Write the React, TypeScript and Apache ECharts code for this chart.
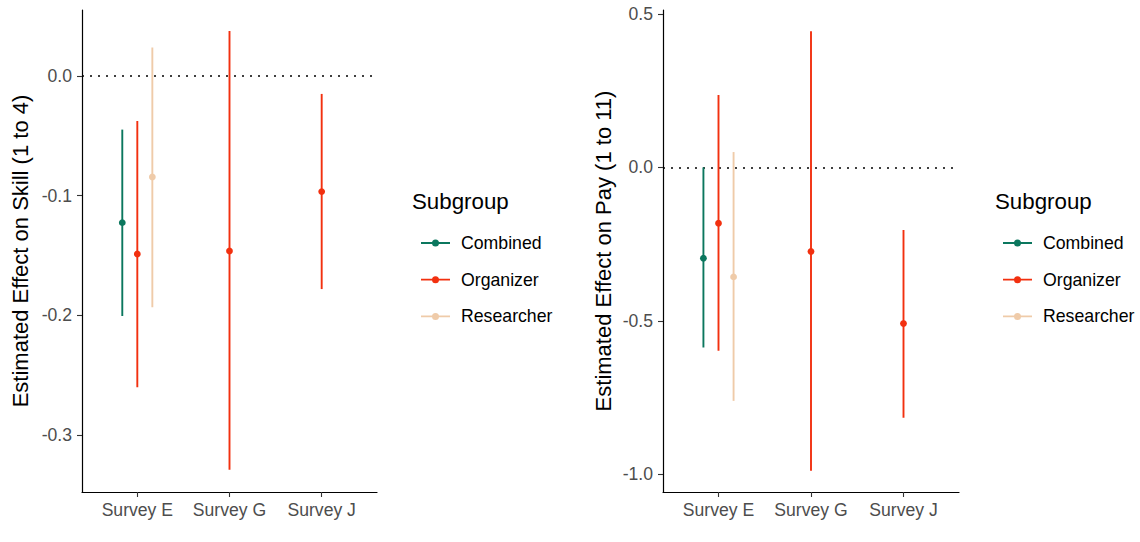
import React, { useEffect, useRef } from "react";
import * as echarts from "echarts";

// Categories and subgroups
const categories = ["Survey E", "Survey G", "Survey J"];
const subgroups = ["Combined", "Organizer", "Researcher"];
const subgroupColors = ["#0B775E", "#F2300F", "#EFCBA9"];

// Estimated effect on skill (1 to 4): estimate, lower and upper bound per survey
const skillCombinedEst = [-0.1225, null, null];
const skillCombinedLow = [-0.2005, null, null];
const skillCombinedHigh = [-0.0448, null, null];
const skillOrganizerEst = [-0.1487, -0.1462, -0.0966];
const skillOrganizerLow = [-0.26, -0.329, -0.178];
const skillOrganizerHigh = [-0.0376, 0.0376, -0.015];
const skillResearcherEst = [-0.0844, null, null];
const skillResearcherLow = [-0.1932, null, null];
const skillResearcherHigh = [0.0237, null, null];

// Estimated effect on pay (1 to 11)
const payCombinedEst = [-0.296, null, null];
const payCombinedLow = [-0.587, null, null];
const payCombinedHigh = [0.0, null, null];
const payOrganizerEst = [-0.182, -0.274, -0.509];
const payOrganizerLow = [-0.598, -0.989, -0.816];
const payOrganizerHigh = [0.236, 0.444, -0.204];
const payResearcherEst = [-0.357, null, null];
const payResearcherLow = [-0.761, null, null];
const payResearcherHigh = [0.05, null, null];

// Tick values
const skillTicks = [-0.3, -0.2, -0.1, 0.0];
const payTicks = [-1.0, -0.5, 0.0, 0.5];

const FONT = "'Liberation Sans', Arial, sans-serif";
const DODGE_STEP = 0.163;

const legendIcon =
  "path://M0,2.8 L29,2.8 L29,4.6 L0,4.6 Z M11,3.7 a3.5,3.5 0 1,1 7,0 a3.5,3.5 0 1,1 -7,0 Z";

type Panel = {
  title: string;
  min: number;
  max: number;
  ticks: number[];
  nameGap: number;
  est: (number | null)[][];
  low: (number | null)[][];
  high: (number | null)[][];
};

const panels: Panel[] = [
  {
    title: "Estimated Effect on Skill (1 to 4)",
    min: -0.3475,
    max: 0.0551,
    ticks: skillTicks,
    nameGap: 51,
    est: [skillCombinedEst, skillOrganizerEst, skillResearcherEst],
    low: [skillCombinedLow, skillOrganizerLow, skillResearcherLow],
    high: [skillCombinedHigh, skillOrganizerHigh, skillResearcherHigh],
  },
  {
    title: "Estimated Effect on Pay (1 to 11)",
    min: -1.058,
    max: 0.513,
    ticks: payTicks,
    nameGap: 49,
    est: [payCombinedEst, payOrganizerEst, payResearcherEst],
    low: [payCombinedLow, payOrganizerLow, payResearcherLow],
    high: [payCombinedHigh, payOrganizerHigh, payResearcherHigh],
  },
];

const gridBoxes = [
  { left: 82, top: 10, width: 295, height: 482 },
  { left: 663, top: 10, width: 296, height: 482 },
];
const legendLefts = [416, 998];
const legendTitleLefts = [412, 995];

function buildOption() {
  const series: any[] = [];
  const xAxis: any[] = [];
  const yAxis: any[] = [];
  const legend: any[] = [];
  const graphic: any[] = [];

  panels.forEach((panel, p) => {
    // dodge slot of each subgroup within each category
    const slots: number[][] = subgroups.map(() => categories.map(() => 0));
    categories.forEach((_, c) => {
      const present = subgroups
        .map((_, g) => g)
        .filter((g) => panel.est[g][c] !== null);
      present.forEach((g, i) => {
        slots[g][c] = i - (present.length - 1) / 2;
      });
    });

    xAxis.push({
      type: "value",
      gridIndex: p,
      min: 0.4,
      max: 3.6,
      splitLine: { show: false },
      axisLine: { show: true, onZero: false, lineStyle: { color: "#000", width: 1.2 } },
      axisTick: {
        show: true,
        customValues: [1, 2, 3],
        length: 5,
        lineStyle: { color: "#333", width: 1.1 },
      },
      axisLabel: {
        customValues: [1, 2, 3],
        formatter: (v: number) => categories[Math.round(v) - 1] ?? "",
        color: "#4d4d4d",
        fontSize: 17.6,
        fontFamily: FONT,
        margin: 9,
      },
    });

    yAxis.push({
      type: "value",
      gridIndex: p,
      min: panel.min,
      max: panel.max,
      name: panel.title,
      nameLocation: "middle",
      nameRotate: 90,
      nameGap: panel.nameGap,
      nameTextStyle: { fontSize: 22, color: "#000", fontFamily: FONT },
      splitLine: { show: false },
      axisLine: { show: true, onZero: false, lineStyle: { color: "#000", width: 1.2 } },
      axisTick: {
        show: true,
        customValues: panel.ticks,
        length: 5,
        lineStyle: { color: "#333", width: 1.1 },
      },
      axisLabel: {
        customValues: panel.ticks,
        formatter: (v: number) => v.toFixed(1),
        color: "#4d4d4d",
        fontSize: 17.6,
        fontFamily: FONT,
        margin: 10,
      },
    });

    subgroups.forEach((name, g) => {
      const data: number[][] = [];
      categories.forEach((_, c) => {
        const e = panel.est[g][c];
        const lo = panel.low[g][c];
        const hi = panel.high[g][c];
        if (e !== null && lo !== null && hi !== null) {
          data.push([c + 1, e, lo, hi, slots[g][c]]);
        }
      });
      const color = subgroupColors[g];
      series.push({
        type: "custom",
        name,
        xAxisIndex: p,
        yAxisIndex: p,
        itemStyle: { color },
        encode: { x: 0, y: [1, 2, 3] },
        data,
        z: 3,
        renderItem: (_params: any, api: any) => {
          const x = api.value(0);
          const unit = api.size([1, 0])[0];
          const dx = api.value(4) * DODGE_STEP * unit;
          const pLo = api.coord([x, api.value(2)]);
          const pHi = api.coord([x, api.value(3)]);
          const pE = api.coord([x, api.value(1)]);
          return {
            type: "group",
            children: [
              {
                type: "line",
                shape: { x1: pLo[0] + dx, y1: pLo[1], x2: pHi[0] + dx, y2: pHi[1] },
                style: { stroke: color, lineWidth: 1.9 },
              },
              {
                type: "circle",
                shape: { cx: pE[0] + dx, cy: pE[1], r: 3.4 },
                style: { fill: color },
              },
            ],
          };
        },
        ...(g === 1
          ? {
              markLine: {
                silent: true,
                symbol: "none",
                label: { show: false },
                lineStyle: { color: "#000", type: [2, 6], width: 1.6 },
                data: [{ yAxis: 0 }],
                z: 1,
              },
            }
          : {}),
      });
    });

    legend.push({
      orient: "vertical",
      left: legendLefts[p],
      top: 228,
      itemWidth: 29,
      itemHeight: 7,
      itemGap: 16.7,
      icon: legendIcon,
      selectedMode: false,
      data: subgroups,
      textStyle: {
        fontSize: 17.7,
        color: "#000",
        fontFamily: FONT,
        lineHeight: 20,
        padding: [0, 0, 0, 6],
      },
    });

    graphic.push({
      type: "text",
      left: legendTitleLefts[p],
      top: 190,
      style: {
        text: "Subgroup",
        fontSize: 22.3,
        fill: "#000",
        fontFamily: FONT,
      },
    });
  });

  return {
    animation: false,
    backgroundColor: "#fff",
    grid: gridBoxes,
    xAxis,
    yAxis,
    legend,
    graphic,
    series,
  };
}

export default function App() {
  const ref = useRef<HTMLDivElement>(null);
  useEffect(() => {
    document.body.style.margin = "0";
    if (!ref.current) return;
    const chart = echarts.init(ref.current, undefined, { renderer: "svg" });
    chart.setOption(buildOption());
    return () => chart.dispose();
  }, []);
  return <div ref={ref} style={{ width: 1140, height: 542 }} />;
}
